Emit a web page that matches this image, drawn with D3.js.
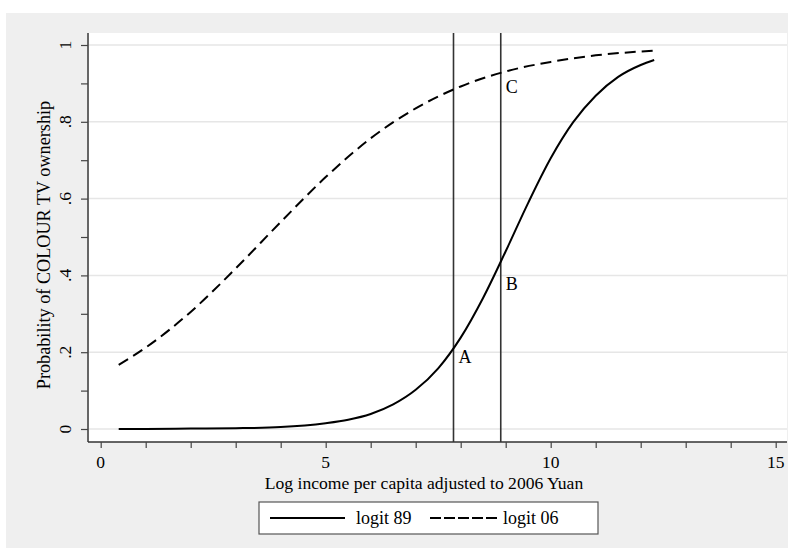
<!DOCTYPE html>
<html>
<head>
<meta charset="utf-8">
<script src="https://cdn.jsdelivr.net/npm/d3@7"></script>
<style>
  body { margin: 0; background: #fff; }
  svg text { font-family: "Liberation Serif", "Times New Roman", serif; fill: #000; }
</style>
</head>
<body>
<div id="chart"></div>
<script>
// values
let xs89 = [0.4, 1, 2, 3, 4, 5, 5.5, 6, 6.5, 7, 7.5, 8, 8.5, 9, 9.5, 10, 10.5, 11, 11.5, 12, 12.3];
let p89  = [0.000, 0.000, 0.001, 0.002, 0.005, 0.015, 0.024, 0.039, 0.064, 0.102, 0.158, 0.238, 0.342, 0.463, 0.589, 0.705, 0.799, 0.868, 0.917, 0.948, 0.961];

let xs06 = [0.4, 1, 2, 3, 4, 5, 6, 7, 8, 9, 10, 11, 12, 12.3];
let p06  = [0.167, 0.212, 0.305, 0.418, 0.539, 0.656, 0.757, 0.835, 0.892, 0.931, 0.956, 0.973, 0.983, 0.985];

let cutoffs = [7.84, 8.89];           // vertical reference lines
let markers = [
  { name: "A", x: 7.84, y: 0.21 },
  { name: "B", x: 8.89, y: 0.436 },
  { name: "C", x: 8.89, y: 0.929 }
];

let xTicks = d3.range(0, 16, 1);
let xLabels = [0, 5, 10, 15];
let yTicks = d3.range(0, 1.01, 0.1);
let yLabels = [0, 0.2, 0.4, 0.6, 0.8, 1];

let series = ["logit 89", "logit 06"];

////////////////////////////////////////////////////////////////////////
// SVG setup

let W = 794, H = 554;
let svg = d3.select("#chart").append("svg")
  .attr("width", W).attr("height", H);

// outer gray panel and white plot region
svg.append("rect").attr("x", 6).attr("y", 13).attr("width", 782).attr("height", 535)
  .attr("fill", "#efefef");
svg.append("rect").attr("x", 88).attr("y", 33).attr("width", 699).attr("height", 409)
  .attr("fill", "#fff");

let x = d3.scaleLinear().domain([0, 15]).range([100.7, 775.7]);
let y = d3.scaleLinear().domain([0, 1]).range([429, 45]);

// gridlines at labelled y ticks
svg.append("g").selectAll("line")
  .data(yLabels)
  .enter().append("line")
  .attr("x1", 88).attr("x2", 787)
  .attr("y1", d => y(d)).attr("y2", d => y(d))
  .attr("stroke", "#e6e6e6").attr("stroke-width", 1.5);

// y axis
let yAxis = svg.append("g")
  .attr("transform", "translate(88,0)")
  .call(d3.axisLeft(y).tickValues(yTicks).tickSize(7).tickFormat(""));
yAxis.select(".domain").attr("d", "M0,33V442").attr("stroke", "#666").attr("stroke-width", 2);
yAxis.selectAll(".tick line").attr("stroke", "#444").attr("stroke-width", 1.2);

svg.append("g").selectAll("text")
  .data(yLabels)
  .enter().append("text")
  .attr("transform", d => `translate(71,${y(d)}) rotate(-90)`)
  .attr("text-anchor", "middle")
  .style("font-size", "17.5px")
  .text(d => d3.format("")(d).replace(/^0\./, "."));

// x axis
let xAxis = svg.append("g")
  .attr("transform", "translate(0,442)")
  .call(d3.axisBottom(x).tickValues(xTicks).tickSize(6).tickFormat(""));
xAxis.select(".domain").attr("d", "M88,0H787").attr("stroke", "#333").attr("stroke-width", 1.5);
xAxis.selectAll(".tick line").attr("stroke", "#444").attr("stroke-width", 1.2);

svg.append("g").selectAll("text")
  .data(xLabels)
  .enter().append("text")
  .attr("x", d => x(d)).attr("y", 467.5)
  .attr("text-anchor", "middle")
  .style("font-size", "17.5px")
  .text(d => d);

// axis titles
svg.append("text")
  .attr("x", 424).attr("y", 489)
  .attr("text-anchor", "middle")
  .style("font-size", "17.6px")
  .text("Log income per capita adjusted to 2006 Yuan");

svg.append("text")
  .attr("transform", "translate(50,245) rotate(-90)")
  .attr("text-anchor", "middle")
  .style("font-size", "18.2px")
  .text("Probability of COLOUR TV ownership");

// vertical cutoff lines
svg.append("g").selectAll("line")
  .data(cutoffs)
  .enter().append("line")
  .attr("x1", d => x(d)).attr("x2", d => x(d))
  .attr("y1", 33).attr("y2", 442)
  .attr("stroke", "#333").attr("stroke-width", 1.6);

// curves
let line = d3.line()
  .x(d => x(d[0]))
  .y(d => y(d[1]))
  .curve(d3.curveMonotoneX);

svg.append("path")
  .datum(xs89.map((v, i) => [v, p89[i]]))
  .attr("d", line)
  .attr("fill", "none").attr("stroke", "#000").attr("stroke-width", 2);

svg.append("path")
  .datum(xs06.map((v, i) => [v, p06[i]]))
  .attr("d", line)
  .attr("fill", "none").attr("stroke", "#000").attr("stroke-width", 2)
  .attr("stroke-dasharray", "11,6");

// point labels
svg.append("g").selectAll("text")
  .data(markers)
  .enter().append("text")
  .attr("x", d => x(d.x) + 5)
  .attr("y", d => y(d.y) + (d.name == "A" ? 15 : d.name == "B" ? 28 : 21))
  .style("font-size", "18px")
  .text(d => d.name);

// legend
let lg = svg.append("g");
lg.append("rect").attr("x", 259).attr("y", 502).attr("width", 339).attr("height", 32)
  .attr("fill", "#fff").attr("stroke", "#555").attr("stroke-width", 1.2);

let legX = [270, 430];
let legLen = [75, 67];
series.forEach((s, i) => {
  lg.append("line")
    .attr("x1", legX[i]).attr("x2", legX[i] + legLen[i])
    .attr("y1", 518).attr("y2", 518)
    .attr("stroke", "#000").attr("stroke-width", 2)
    .attr("stroke-dasharray", i == 1 ? "11,3" : null);
  lg.append("text")
    .attr("x", i == 0 ? 356 : 503).attr("y", 524)
    .style("font-size", "18px")
    .text(s);
});
</script>
</body>
</html>
